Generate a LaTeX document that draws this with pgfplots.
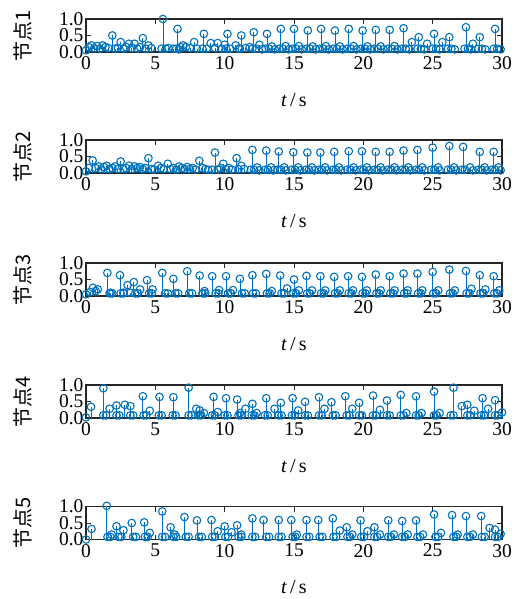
\documentclass[border=0pt]{standalone}
\usepackage{pgfplots}
\pgfplotsset{compat=1.18}
\usepackage{fontspec}
\setmainfont{Liberation Serif}
\newfontfamily\tnr{Liberation Serif}
\newfontfamily\cjk{Noto Sans CJK SC}
\definecolor{mblue}{RGB}{0,114,189}
\definecolor{axgray}{RGB}{38,38,38}
\pgfplotsset{
  panel/.style={
    scale only axis, width=416pt, height=33pt,
    xmin=0, xmax=30, ymin=0, ymax=1,
    xtick={0,5,...,30}, ytick={0,0.5,1},
    yticklabel style={/pgf/number format/fixed, /pgf/number format/fixed zerofill, /pgf/number format/precision=1, xshift=1pt},
    /pgf/number format/assume math mode=true,
    tick align=inside, major tick length=5pt,
    axis line style={axgray, line width=1.1pt},
    every tick/.style={axgray, line width=0.8pt},
    tick label style={font=\tnr\fontsize{19.5}{21}\selectfont, text=black},
    label style={font=\tnr\fontsize{20}{22}\selectfont},
    xticklabel style={yshift=-1pt},
    ylabel style={at={(axis description cs:-0.151,0.5)}, anchor=center},
    xlabel style={at={(axis description cs:0.5,-1.45)}, anchor=center},
    xlabel={{\tnr\itshape t}\,/\,s},
    clip=false,
    anchor=south west,
  },
  stm/.style={ycomb, color=mblue, mark=o, mark size=3.8pt, line width=0.8pt, mark options={solid, line width=1.1pt}},
}
\begin{document}
\begin{tikzpicture}
\path[use as bounding box] (0,0) rectangle (518pt,-599pt);
% Node 1
\begin{axis}[panel, at={(86pt,-52pt)}, ylabel={\cjk 节点1}]
\addplot[stm] coordinates {(0,0.05)(0.2,0.15)(0.4,0.2)(0.6,0.12)(0.8,0.18)(1.0,0.1)(1.2,0.2)(1.4,0.15)(1.6,0.12)(1.9,0.5)(2.1,0.1)(2.3,0.12)(2.5,0.3)(2.7,0.1)(2.9,0.15)(3.1,0.25)(3.3,0.12)(3.5,0.25)(3.7,0.1)(3.9,0.15)(4.1,0.42)(4.3,0.1)(4.5,0.2)(4.7,0.12)(5.55,1.0)(5.75,0.1)(5.95,0.12)(6.3,0.1)(6.6,0.7)(6.8,0.15)(7.0,0.2)(7.2,0.15)(7.5,0.12)(7.8,0.3)(8.0,0.1)(8.5,0.55)(8.7,0.1)(9.0,0.27)(9.3,0.12)(9.5,0.27)(9.8,0.1)(10.0,0.22)(10.2,0.55)(10.4,0.1)(10.8,0.2)(11.0,0.1)(11.2,0.5)(11.5,0.12)(11.8,0.15)(12.1,0.6)(12.5,0.22)(13.05,0.55)(13.4,0.17)(14.05,0.7)(14.4,0.18)(15.0,0.7)(15.35,0.18)(16.0,0.65)(16.35,0.17)(16.95,0.7)(17.3,0.18)(17.95,0.65)(18.3,0.17)(18.95,0.7)(19.3,0.18)(19.95,0.65)(20.3,0.17)(20.9,0.67)(21.25,0.17)(21.9,0.67)(22.25,0.18)(22.9,0.72)(23.5,0.3)(24.0,0.45)(24.6,0.25)(25.1,0.55)(25.7,0.3)(26.2,0.45)(27.4,0.75)(27.9,0.25)(28.4,0.45)(29.5,0.7)};
\addplot[stm] coordinates {(5.45,0.1)(6.5,0.1)(6.7,0.08)(8.4,0.1)(10.1,0.1)(11.1,0.1)(12.0,0.1)(12.25,0.1)(12.7,0.08)(12.95,0.1)(13.2,0.1)(13.6,0.08)(13.95,0.1)(14.2,0.1)(14.6,0.08)(14.9,0.1)(15.15,0.1)(15.55,0.08)(15.9,0.1)(16.15,0.1)(16.55,0.08)(16.85,0.1)(17.1,0.1)(17.5,0.08)(17.85,0.1)(18.1,0.1)(18.5,0.08)(18.85,0.1)(19.1,0.1)(19.5,0.08)(19.85,0.1)(20.1,0.1)(20.5,0.08)(20.8,0.1)(21.05,0.1)(21.45,0.08)(21.8,0.1)(22.05,0.1)(22.45,0.08)(22.8,0.1)(23.05,0.1)(23.3,0.08)(23.9,0.1)(24.15,0.1)(24.4,0.08)(25.0,0.1)(25.25,0.1)(25.5,0.08)(26.1,0.1)(26.35,0.1)(26.6,0.08)(27.3,0.1)(27.55,0.1)(27.75,0.08)(28.3,0.1)(28.55,0.1)(28.8,0.08)(29.4,0.1)(29.65,0.1)(29.9,0.08)};
\end{axis}
% Node 2
\begin{axis}[panel, at={(86pt,-173pt)}, ylabel={\cjk 节点2}]
\addplot[stm] coordinates {(0,0.05)(0.2,0.15)(0.48,0.38)(0.7,0.15)(0.9,0.2)(1.1,0.12)(1.3,0.18)(1.49,0.22)(1.7,0.12)(1.9,0.15)(2.1,0.2)(2.3,0.12)(2.5,0.35)(2.7,0.12)(2.9,0.15)(3.1,0.22)(3.3,0.12)(3.5,0.2)(3.7,0.15)(3.9,0.18)(4.1,0.12)(4.3,0.15)(4.5,0.45)(4.7,0.12)(4.9,0.1)(5.2,0.22)(5.4,0.15)(5.6,0.12)(5.9,0.28)(6.1,0.12)(6.3,0.15)(6.5,0.1)(6.7,0.2)(6.9,0.15)(7.1,0.12)(7.3,0.18)(7.5,0.12)(7.7,0.15)(7.9,0.1)(8.17,0.37)(8.4,0.15)(8.6,0.12)(8.8,0.1)(9.1,0.1)(9.3,0.62)(9.5,0.1)(9.7,0.15)(9.9,0.28)(10.1,0.12)(10.3,0.15)(10.5,0.1)(10.86,0.45)(11.0,0.12)(11.2,0.22)(11.4,0.12)(12.0,0.7)(12.35,0.17)(13.0,0.68)(13.35,0.17)(13.9,0.65)(14.3,0.17)(14.95,0.63)(15.3,0.17)(15.96,0.62)(16.3,0.17)(16.9,0.62)(17.25,0.17)(17.9,0.64)(18.25,0.17)(18.95,0.66)(19.3,0.17)(19.9,0.66)(20.25,0.17)(20.9,0.64)(21.25,0.17)(21.9,0.64)(22.25,0.17)(22.9,0.68)(23.25,0.17)(23.9,0.7)(24.25,0.17)(25.0,0.77)(25.4,0.17)(26.2,0.82)(26.55,0.17)(27.2,0.79)(27.7,0.17)(28.4,0.64)(28.75,0.17)(29.4,0.64)(29.75,0.17)};
\addplot[stm] coordinates {(11.9,0.1)(12.12,0.1)(12.5,0.08)(12.9,0.1)(13.12,0.1)(13.5,0.08)(13.8,0.1)(14.02,0.1)(14.4,0.08)(14.85,0.1)(15.07,0.1)(15.45,0.08)(15.86,0.1)(16.08,0.1)(16.46,0.08)(16.8,0.1)(17.02,0.1)(17.4,0.08)(17.8,0.1)(18.02,0.1)(18.4,0.08)(18.85,0.1)(19.07,0.1)(19.45,0.08)(19.8,0.1)(20.02,0.1)(20.4,0.08)(20.8,0.1)(21.02,0.1)(21.4,0.08)(21.8,0.1)(22.02,0.1)(22.4,0.08)(22.8,0.1)(23.02,0.1)(23.4,0.08)(23.8,0.1)(24.02,0.1)(24.4,0.08)(24.9,0.1)(25.12,0.1)(25.5,0.08)(26.1,0.1)(26.32,0.1)(26.7,0.08)(27.1,0.1)(27.32,0.1)(27.9,0.08)(28.3,0.1)(28.52,0.1)(28.9,0.08)(29.3,0.1)(29.52,0.1)(29.9,0.08)};
\end{axis}
% Node 3
\begin{axis}[panel, at={(86pt,-296pt)}, ylabel={\cjk 节点3}]
\addplot[stm] coordinates {(0,0.05)(0.3,0.12)(0.5,0.25)(0.7,0.15)(0.85,0.2)(1.54,0.7)(1.78,0.1)(2.45,0.63)(2.7,0.1)(3.0,0.33)(3.2,0.1)(3.45,0.42)(3.9,0.2)(4.4,0.48)(4.8,0.2)(5.5,0.7)(6.3,0.52)(7.3,0.75)(8.2,0.62)(8.55,0.15)(9.1,0.6)(9.6,0.18)(10.1,0.6)(10.6,0.18)(11.1,0.52)(12.0,0.63)(13.0,0.67)(13.4,0.15)(14.0,0.62)(14.5,0.23)(15.0,0.5)(15.35,0.17)(15.9,0.61)(16.3,0.17)(16.9,0.6)(17.25,0.17)(17.9,0.58)(18.3,0.17)(18.9,0.6)(19.25,0.17)(19.9,0.58)(20.25,0.17)(20.9,0.65)(21.25,0.17)(21.9,0.6)(22.25,0.17)(22.9,0.68)(23.2,0.17)(23.9,0.68)(24.25,0.17)(25.0,0.73)(25.4,0.17)(26.2,0.8)(26.6,0.17)(27.4,0.76)(27.8,0.22)(28.4,0.63)(28.8,0.2)(29.4,0.6)(29.8,0.17)};
\addplot[stm] coordinates {(1.7,0.08)(1.9,0.08)(2.5,0.08)(2.7,0.08)(3.55,0.08)(3.75,0.08)(4.55,0.08)(4.75,0.08)(5.7,0.08)(5.9,0.08)(6.45,0.08)(6.65,0.08)(7.45,0.08)(7.65,0.08)(8.4,0.08)(8.6,0.08)(9.35,0.08)(9.55,0.08)(10.25,0.08)(10.45,0.08)(11.25,0.08)(11.45,0.08)(12.05,0.08)(12.25,0.08)(13.05,0.08)(13.25,0.08)(14.1,0.08)(14.3,0.08)(14.95,0.08)(15.15,0.08)(15.95,0.08)(16.15,0.08)(16.95,0.08)(17.15,0.08)(17.95,0.08)(18.15,0.08)(18.95,0.08)(19.15,0.08)(19.95,0.08)(20.15,0.08)(20.95,0.08)(21.15,0.08)(21.95,0.08)(22.15,0.08)(22.95,0.08)(23.15,0.08)(23.95,0.08)(24.15,0.08)(25.05,0.08)(25.25,0.08)(26.25,0.08)(26.45,0.08)(27.45,0.08)(27.65,0.08)(28.45,0.08)(28.65,0.08)(29.45,0.08)(29.65,0.08)};
\end{axis}
% Node 4
\begin{axis}[panel, at={(86pt,-418pt)}, ylabel={\cjk 节点4}]
\addplot[stm] coordinates {(0,0.02)(0.36,0.34)(1.25,0.9)(1.7,0.28)(2.2,0.38)(2.8,0.4)(3.2,0.36)(4.1,0.66)(4.6,0.22)(5.3,0.64)(6.3,0.63)(7.4,0.92)(7.95,0.28)(8.2,0.23)(8.5,0.15)(9.2,0.64)(9.5,0.18)(10.1,0.6)(10.9,0.56)(11.1,0.15)(11.5,0.28)(12.0,0.43)(12.3,0.15)(13.0,0.6)(13.6,0.28)(14.05,0.46)(14.9,0.6)(15.3,0.23)(15.8,0.49)(16.8,0.63)(17.2,0.28)(17.7,0.48)(18.7,0.66)(19.2,0.28)(19.7,0.46)(20.7,0.68)(21.2,0.25)(21.7,0.53)(22.7,0.7)(23.1,0.15)(23.8,0.66)(24.2,0.15)(25.1,0.8)(25.5,0.15)(26.5,0.92)(27.1,0.36)(27.5,0.4)(28.0,0.22)(28.6,0.6)(29.0,0.28)(29.5,0.54)(30.0,0.17)};
\addplot[stm] coordinates {(1.25,0.08)(1.45,0.08)(2.2,0.08)(2.4,0.08)(3.2,0.08)(3.4,0.08)(4.15,0.08)(4.35,0.08)(5.25,0.08)(5.45,0.08)(6.25,0.08)(6.45,0.08)(7.4,0.08)(7.6,0.08)(8.1,0.08)(8.3,0.08)(9.1,0.08)(9.3,0.08)(10.0,0.08)(10.2,0.08)(11.0,0.08)(11.2,0.08)(11.95,0.08)(12.15,0.08)(12.9,0.08)(13.1,0.08)(13.9,0.08)(14.1,0.08)(14.85,0.08)(15.05,0.08)(15.8,0.08)(16.0,0.08)(16.8,0.08)(17.0,0.08)(17.8,0.08)(18.0,0.08)(18.8,0.08)(19.0,0.08)(19.7,0.08)(19.9,0.08)(20.7,0.08)(20.9,0.08)(21.7,0.08)(21.9,0.08)(22.7,0.08)(22.9,0.08)(23.8,0.08)(24.0,0.08)(25.1,0.08)(25.3,0.08)(26.3,0.08)(26.5,0.08)(27.5,0.08)(27.7,0.08)(28.5,0.08)(28.7,0.08)(29.5,0.08)(29.7,0.08)};
\end{axis}
% Node 5
\begin{axis}[panel, at={(86pt,-539.5pt)}, ylabel={\cjk 节点5}]
\addplot[stm] coordinates {(0,0.0)(0.4,0.32)(1.5,1.02)(1.85,0.15)(2.2,0.4)(2.7,0.28)(3.3,0.5)(4.2,0.52)(4.6,0.2)(5.5,0.85)(6.1,0.37)(6.4,0.15)(7.1,0.68)(8.0,0.58)(9.05,0.59)(9.5,0.25)(10.0,0.4)(10.5,0.22)(10.9,0.43)(11.2,0.15)(12.0,0.64)(12.8,0.59)(13.9,0.59)(14.8,0.59)(15.2,0.15)(15.9,0.59)(16.75,0.59)(17.8,0.64)(18.3,0.27)(18.8,0.37)(19.2,0.15)(19.8,0.58)(20.3,0.25)(20.8,0.37)(21.2,0.15)(21.8,0.58)(22.2,0.15)(22.8,0.56)(23.2,0.15)(23.8,0.58)(24.3,0.15)(25.1,0.76)(25.6,0.2)(26.4,0.74)(26.8,0.15)(27.4,0.71)(27.9,0.15)(28.5,0.71)(29.1,0.35)(29.5,0.3)(29.9,0.17)};
\addplot[stm] coordinates {(1.55,0.08)(1.75,0.08)(2.35,0.08)(2.55,0.08)(3.4,0.08)(3.6,0.08)(4.25,0.08)(4.45,0.08)(5.5,0.08)(5.7,0.08)(6.3,0.08)(6.5,0.08)(7.2,0.08)(7.4,0.08)(8.15,0.08)(8.35,0.08)(9.1,0.08)(9.3,0.08)(10.05,0.08)(10.25,0.08)(11.0,0.08)(11.2,0.08)(12.0,0.08)(12.2,0.08)(13.0,0.08)(13.2,0.08)(13.9,0.08)(14.1,0.08)(14.9,0.08)(15.1,0.08)(15.9,0.08)(16.1,0.08)(16.85,0.08)(17.05,0.08)(17.85,0.08)(18.05,0.08)(18.85,0.08)(19.05,0.08)(19.85,0.08)(20.05,0.08)(20.8,0.08)(21.0,0.08)(21.8,0.08)(22.0,0.08)(22.8,0.08)(23.0,0.08)(23.9,0.08)(24.1,0.08)(25.2,0.08)(25.4,0.08)(26.5,0.08)(26.7,0.08)(27.5,0.08)(27.7,0.08)(28.55,0.08)(28.75,0.08)(29.5,0.08)(29.7,0.08)};
\end{axis}
\end{tikzpicture}
\end{document}
